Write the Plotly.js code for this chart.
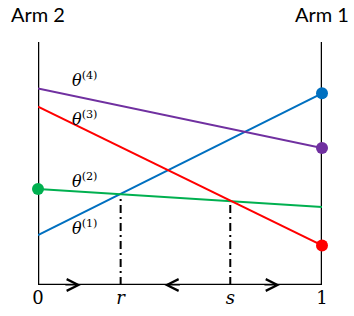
<!DOCTYPE html>
<html>
<head>
<meta charset="utf-8">
<script src="https://cdn.plot.ly/plotly-3.0.1.min.js"></script>
<style>html,body{margin:0;padding:0;background:#fff;}#chart{width:354px;height:316px;}</style>
</head>
<body>
<div id="chart"></div>
<script>
// Arm positions (x) and line values at each arm
const armX = [0, 1];
const armLabels = ['Arm 2', 'Arm 1'];
const seriesNames = ['θ(1)', 'θ(2)', 'θ(3)', 'θ(4)'];
const theta1 = [0.205, 0.789];
const theta2 = [0.395, 0.321];
const theta3 = [0.734, 0.163];
const theta4 = [0.809, 0.564];
const colors = ['#0070C0', '#00B050', '#FF0000', '#7030A0'];
// marked endpoint (index into armX) for each series
const markedEnd = [1, 0, 1, 1];
// crossing points r and s with heights of dash-dot drop lines
const crossX = [0.291, 0.677];
const crossY = [0.366, 0.345];
const tickVals = [0, crossX[0], crossX[1], 1];
const tickText = ['0', '<i>r</i>', '<i>s</i>', '1'];
// theta label positions
const labelX = [0.165, 0.165, 0.165, 0.165];
const labelY = [0.235, 0.429, 0.687, 0.844];
const labelSup = ['(1)', '(2)', '(3)', '(4)'];
// arrows on bottom axis: tip position and direction
const arrowTip = [0.151, 0.445, 0.852];
const arrowDir = [1, -1, 1];

const series = [theta1, theta2, theta3, theta4];
const traces = [];
series.forEach((vals, i) => {
  traces.push({
    x: armX, y: vals, mode: 'lines', type: 'scatter',
    line: {color: colors[i], width: 2}, hoverinfo: 'skip', showlegend: false,
    cliponaxis: false, name: seriesNames[i]
  });
});
series.forEach((vals, i) => {
  traces.push({
    x: [armX[markedEnd[i]]], y: [vals[markedEnd[i]]], mode: 'markers', type: 'scatter',
    marker: {color: colors[i], size: 12}, hoverinfo: 'skip', showlegend: false,
    cliponaxis: false
  });
});
crossX.forEach((cx, i) => {
  traces.push({
    x: [cx, cx], y: [0, crossY[i]], mode: 'lines', type: 'scatter',
    line: {color: '#000', width: 2, dash: '8px,4px,2px,4px'}, hoverinfo: 'skip', showlegend: false
  });
});

const shapes = [
  {type: 'line', xref: 'x', yref: 'y', x0: 0, x1: 1, y0: 0, y1: 0, line: {color: '#000', width: 2.5}, layer: 'below'},
  {type: 'line', xref: 'x', yref: 'y', x0: 0, x1: 0, y0: 0, y1: 1, line: {color: '#000', width: 2.5}, layer: 'below'},
  {type: 'line', xref: 'x', yref: 'y', x0: 1, x1: 1, y0: 0, y1: 1, line: {color: '#000', width: 2.5}, layer: 'below'}
];

const annotations = [];
armLabels.forEach((t, i) => {
  annotations.push({
    x: armX[i], xref: 'x', y: 1 + (42 - 14) / 243, yref: 'paper', yanchor: 'middle', xanchor: 'center',
    text: t, showarrow: false, font: {family: 'Lato, sans-serif', size: 20, color: '#000'}
  });
});
labelX.forEach((lx, i) => {
  annotations.push({
    x: lx, y: labelY[i], xref: 'x', yref: 'y', showarrow: false,
    text: '<i>θ</i><sup>' + labelSup[i] + '</sup>',
    font: {family: 'DejaVu Serif, serif', size: 16, color: '#000'}
  });
});
arrowTip.forEach((ax, i) => {
  annotations.push({
    x: ax, y: 0, xref: 'x', yref: 'y', ax: ax - arrowDir[i] * 0.06, ay: 0, axref: 'x', ayref: 'y',
    text: '', showarrow: true, arrowhead: 5, arrowsize: 2.3, arrowwidth: 1, arrowcolor: '#000'
  });
});

const layout = {
  width: 354, height: 316,
  margin: {l: 38, r: 32, t: 42, b: 31, pad: 0},
  paper_bgcolor: '#fff', plot_bgcolor: '#fff',
  xaxis: {range: [0, 1], showgrid: false, zeroline: false, showline: false,
          tickmode: 'array', tickvals: tickVals, ticktext: tickText, ticks: '',
          tickfont: {family: 'DejaVu Serif, serif', size: 18, color: '#000'}, fixedrange: true},
  yaxis: {range: [0, 1], showgrid: false, zeroline: false, showline: false, showticklabels: false, fixedrange: true},
  shapes: shapes, annotations: annotations, showlegend: false
};

Plotly.newPlot('chart', traces, layout, {staticPlot: true, displayModeBar: false});
</script>
</body>
</html>
